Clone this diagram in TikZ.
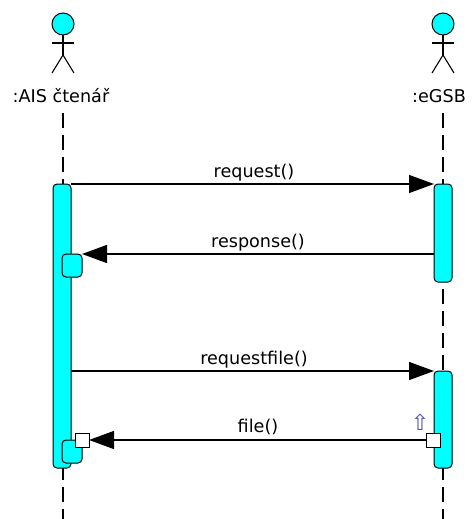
\documentclass[tikz,border=0pt]{standalone}
\usepackage{fontspec}
\setmainfont{DejaVu Sans}
\usetikzlibrary{arrows.meta}
\definecolor{lifecyan}{RGB}{0,255,255}
\definecolor{notearrow}{RGB}{80,80,200}
\tikzset{
  bar/.style={draw=black, line width=1pt, fill=lifecyan, rounded corners=4pt, minimum width=18pt, inner sep=0pt, outer sep=0pt},
  subbar/.style={draw=black, line width=1pt, fill=lifecyan, rounded corners=4pt, minimum width=20pt, minimum height=23pt, inner sep=0pt, outer sep=0pt},
  portbox/.style={draw=black, line width=1pt, fill=white, minimum width=14pt, minimum height=14pt, inner sep=0pt, outer sep=0pt},
  lifeline/.style={line width=1.2pt, dash pattern=on 15pt off 7pt},
  msg/.style={line width=1.3pt, -{Triangle[length=25pt, width=18pt]}},
  lbl/.style={font=\fontsize{17.6}{20}\selectfont, anchor=base, inner sep=0pt},
  actorline/.style={line width=1.1pt},
  head/.style={circle, draw=black, line width=1pt, fill=lifecyan, minimum size=22pt, inner sep=0pt}
}
\begin{document}
\begin{tikzpicture}[x=1pt,y=-1pt]
\useasboundingbox (0,0) rectangle (474,519);
% actors
\node[head] (hA) at (63,24) {};
\coordinate (nA) at (63,55);
\draw[actorline] (hA.south) -- (nA);
\draw[actorline] (52,43) -- (74,43);
\draw[actorline] (nA) -- (52,73);
\draw[actorline] (nA) -- (74,73);
\node[lbl] (tA) at (61,102) {:AIS čtenář};

\node[head] (hB) at (443,24) {};
\coordinate (nB) at (443,55);
\draw[actorline] (hB.south) -- (nB);
\draw[actorline] (432,43) -- (454,43);
\draw[actorline] (nB) -- (432,73);
\draw[actorline] (nB) -- (454,73);
\node[lbl] (tB) at (439,102) {:eGSB};

% lifelines
\coordinate (lA0) at (63,113);
\coordinate (lA1) at (63,519);
\coordinate (lB0) at (443,113);
\coordinate (lB1) at (443,519);
\draw[lifeline] (lA0) -- (lA1);
\draw[lifeline] (lB0) -- (lB1);

% activations
\node[bar, minimum height=284pt] (la) at (62,326) {};
\node[bar, minimum height=98pt] (rb1) at (443,233) {};
\node[bar, minimum height=97pt] (rb2) at (443,419.5) {};
\node[subbar] (sb1) at (72,265.5) {};
\node[subbar] (sb2) at (72,451.5) {};
\node[portbox] (wl) at (82,440) {};
\node[portbox] (wr) at (433.5,440) {};

% messages
\draw[msg] (la.north east) -- (rb1.north west);
\node[lbl] (m1) at (254,177) {request()};
\draw[msg] (rb1.west |- sb1.north) -- (sb1.north east);
\node[lbl] (m2) at (258,247) {response()};
\draw[msg] (la.east |- rb2.north) -- (rb2.north west);
\node[lbl] (m3) at (254,364) {requestfile()};
\draw[msg] (wr.west) -- (wl.east);
\node[lbl] (m4) at (258,432) {file()};
\node[font=\fontsize{22}{24}\selectfont, text=notearrow, inner sep=0pt] (up) at (420,422) {⇧};
\end{tikzpicture}
\end{document}
